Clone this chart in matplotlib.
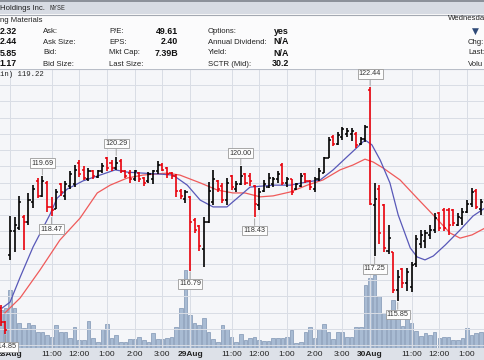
import numpy as np
import matplotlib
matplotlib.use('Agg')
import matplotlib.pyplot as plt
from matplotlib.patches import Rectangle

# 10 minute bars, index 0 = 28 Aug 9:30 (two bars of the previous session first)
first_bar = -2
opens = [115.65, 115.20,
         117.27, 118.00, 118.10, 118.45, 118.30, 118.90, 119.55, 119.10, 119.50, 118.75,
         118.70, 119.45, 119.10, 119.40, 119.45, 120.10, 119.90, 119.60, 119.85, 119.68,
         119.85, 120.25, 120.10, 119.95, 120.15, 119.85, 119.80, 119.60, 119.80, 119.65,
         119.55, 119.60, 119.85, 120.05, 119.95, 119.80, 119.70, 119.25, 119.00,
         119.05, 118.35, 118.15, 117.45, 118.30, 118.90, 119.55, 119.40, 118.95, 119.70,
         119.30, 119.45, 119.75, 119.70, 119.40, 118.80, 119.25, 119.35, 119.45, 119.60,
         120.05, 119.50, 119.60, 119.30, 119.40, 119.75, 119.55, 119.30, 119.60, 119.80,
         120.25, 120.90, 120.70, 120.90, 121.00, 121.00, 121.00, 120.70, 120.85,
         122.35, 118.80, 119.30, 118.80, 117.40, 117.35, 116.20, 116.85, 116.40, 116.30,
         117.00, 117.60, 117.70, 117.90, 118.05, 118.55, 118.65, 118.65, 118.65, 118.20,
         118.40, 118.60, 118.85, 119.25, 118.70]
highs = [115.73, 115.25,
         118.47, 118.45, 119.10, 118.50, 119.18, 119.42, 119.64, 119.69, 119.55, 119.05,
         119.30, 119.50, 119.55, 119.85, 120.05, 120.19, 120.00, 119.95, 119.90, 119.90,
         120.10, 120.30, 120.20, 120.29, 120.22, 119.90, 119.88, 119.90, 119.84, 119.68,
         119.84, 119.90, 120.15, 120.09, 119.99, 119.84, 119.75, 119.30, 119.27,
         119.10, 118.40, 118.20, 118.45, 119.53, 119.89, 119.58, 119.48, 119.63, 119.73,
         119.55, 120.00, 119.78, 119.78, 119.42, 119.32, 119.58, 119.78, 119.68, 119.85,
         120.09, 119.68, 119.62, 119.50, 119.78, 119.78, 119.58, 119.68, 119.95, 120.30,
         120.91, 120.96, 121.05, 121.22, 121.18, 121.18, 121.05, 120.90, 121.27,
         122.44, 119.48, 119.43, 118.85, 118.20, 117.37, 116.80, 116.87, 116.87, 117.06,
         117.89, 118.04, 118.05, 118.20, 118.55, 118.60, 118.71, 118.71, 118.70, 118.55,
         118.71, 118.96, 119.32, 119.30, 119.00]
lows = [115.09, 114.85,
        117.12, 117.35, 118.05, 117.42, 118.20, 118.71, 119.02, 119.05, 118.60, 118.47,
        118.70, 119.10, 118.96, 119.30, 119.37, 119.68, 119.58, 119.55, 119.60, 119.63,
        119.80, 119.85, 119.85, 119.88, 119.80, 119.65, 119.50, 119.55, 119.53, 119.38,
        119.50, 119.45, 119.75, 119.85, 119.63, 119.60, 119.06, 119.00, 118.86,
        116.79, 117.95, 117.38, 116.91, 118.25, 118.81, 119.20, 118.86, 118.81, 119.27,
        119.20, 119.43, 119.42, 119.40, 118.43, 118.66, 119.22, 119.32, 119.37, 119.50,
        119.42, 119.37, 119.12, 119.28, 119.37, 119.48, 119.28, 119.22, 119.55, 119.78,
        120.25, 120.62, 120.66, 120.81, 120.90, 120.78, 120.55, 120.65, 120.75,
        118.81, 117.25, 117.60, 117.35, 117.30, 116.10, 115.85, 116.25, 116.16, 116.14,
        116.91, 117.48, 117.50, 117.75, 117.95, 118.00, 118.00, 117.90, 118.15, 118.15,
        118.20, 118.55, 118.75, 118.70, 118.50]
closes = [115.20, 114.95,
          118.00, 118.20, 118.90, 118.30, 118.95, 119.30, 119.10, 119.55, 118.75, 118.65,
          119.20, 119.20, 119.45, 119.75, 119.90, 119.75, 119.65, 119.85, 119.70, 119.85,
          120.00, 119.95, 119.95, 120.10, 119.85, 119.70, 119.60, 119.85, 119.60, 119.50,
          119.75, 119.85, 120.05, 119.90, 119.75, 119.70, 119.25, 119.10, 119.20,
          118.30, 118.05, 117.55, 118.30, 119.25, 119.60, 119.30, 118.95, 119.50, 119.35,
          119.45, 119.70, 119.50, 119.55, 118.85, 119.20, 119.45, 119.65, 119.60, 119.75,
          119.50, 119.60, 119.20, 119.45, 119.70, 119.55, 119.35, 119.60, 119.85, 120.25,
          120.80, 120.70, 120.95, 121.15, 121.10, 121.10, 120.65, 120.85, 121.20,
          118.85, 119.00, 117.95, 117.50, 117.80, 116.20, 116.60, 116.40, 116.75, 116.95,
          117.75, 117.90, 117.95, 118.05, 118.40, 118.10, 118.10, 118.20, 118.25, 118.45,
          118.60, 118.85, 119.20, 118.75, 118.90]
# volume, thousands of shares
volumes = [95, 100,
           145, 100, 62, 50, 62, 58, 40, 40, 32, 28, 58, 40, 40, 25, 52, 20, 20, 68, 25,
           15, 48, 60, 25, 32, 15, 15, 22, 22, 28, 20, 15, 38, 22, 22, 25, 28, 52, 100, 195,
           82, 62, 58, 75, 40, 22, 15, 58, 48, 28, 15, 35, 20, 25, 28, 20, 18, 18, 25, 25,
           25, 28, 45, 12, 15, 40, 52, 25, 48, 60, 40, 22, 40, 40, 28, 28, 52, 52, 158,
           175, 182, 130, 88, 75, 120, 75, 55, 95, 62, 42, 30, 38, 32, 40, 25, 28, 28, 20,
           20, 25, 50, 32, 38, 40]

# moving averages (bar index, price)
fast_idx = [-1.7, 0, 2.2, 5, 8.7, 10.2, 12.4, 15.8, 19.5, 22.8, 25.4, 28.8, 32.5, 35.3,
            38.4, 41.2, 44, 47, 49.8, 52, 57, 60.7, 64.4, 67.2, 70, 73, 75.8, 76.9, 78.4,
            80.2, 82.3, 84.1, 86.7, 88.2, 89.9, 91.7, 94.3, 97.5, 100.3, 102.9]
fast_ma = [115.64, 115.82, 116.59, 117.52, 118.53, 119.02, 119.30, 119.55, 119.73, 119.89,
           119.82, 119.79, 119.76, 119.73, 119.42, 118.96, 118.75, 118.75, 119.09, 119.36,
           119.42, 119.42, 119.52, 119.58, 119.89, 120.29, 120.66, 120.81, 120.66, 120.19,
           119.49, 118.50, 117.49, 117.21, 117.12, 117.24, 117.58, 118.04, 118.47, 118.72]
slow_idx = [-1.1, 2.2, 6.5, 10.8, 15.2, 18.9, 21.7, 25.4, 28.8, 34, 36.8, 41.2, 44.9, 48.3,
            50.9, 54.2, 57, 60.7, 64.4, 67.8, 71.5, 74.3, 76.9, 78.7, 80.8, 84.5, 88.2,
            91.7, 95.3, 97.5, 100.1, 102.9]
slow_ma = [115.49, 115.95, 116.81, 117.73, 118.41, 119.18, 119.42, 119.64, 119.73, 119.79,
           119.73, 119.49, 119.27, 119.18, 119.18, 119.06, 119.09, 119.21, 119.42, 119.58,
           119.89, 120.04, 120.22, 120.13, 119.95, 119.58, 119.02, 118.50, 117.95, 117.79,
           117.89, 118.10]

tick_idx = [0, 9, 15, 21, 27, 33, 39, 48, 54, 60, 66, 72, 78, 87, 93, 99]
tick_labels = ['28Aug', '11:00', '12:00', '1:00', '2:00', '3:00',
               '29Aug', '11:00', '12:00', '1:00', '2:00', '3:00',
               '30Aug', '11:00', '12:00', '1:00']

# (bar index, price, side)
marks = [(-1, 114.85, 'low'), (7, 119.69, 'high'), (9, 118.47, 'low'),
         (23, 120.29, 'high'), (39, 116.79, 'low'), (50, 120.00, 'high'),
         (53, 118.43, 'low'), (78, 122.44, 'high'), (79, 117.25, 'low'),
         (84, 115.85, 'low')]

quote_vals = ['2.32', '2.44', '5.85', '1.17']
quote_names = ['Ask:', 'Ask Size:', 'Bid:', 'Bid Size:']
fund_names = ['P/E:', 'EPS:', 'Mkt Cap:', 'Last Size:']
fund_vals = ['49.61', '2.40', '7.39B', '']
opt_names = ['Options:', 'Annual Dividend:', 'Yield:', 'SCTR (Mid):']
opt_vals = ['yes', 'N/A', 'N/A', '30.2']
side_names = ['Chg:', 'Last:', 'Volu']

W, H = 485, 360
SANS = 'Liberation Sans'
MONO = 'Liberation Mono'


def fx(px):
    return px / W


def fy(py):
    return 1 - py / H


fig = plt.figure(figsize=(4.85, 3.6), dpi=100)
fig.patch.set_facecolor('#fbfbfc')

# header strip
fig.patches.append(Rectangle((0, fy(14)), 1, 14 / H, transform=fig.transFigure,
                             fc='#d7dbe3', ec='none', zorder=-5))
fig.add_artist(plt.Line2D([0, 1], [fy(0.5), fy(0.5)], color='#7d838c', lw=1.2))
fig.add_artist(plt.Line2D([0, 1], [fy(14.5), fy(14.5)], color='#a4a9b2', lw=0.8))
fig.text(fx(0), fy(8), 'Holdings Inc.', fontsize=5.6, family=SANS, color='#222', va='center')
fig.text(fx(50), fy(8), 'NYSE', fontsize=4.8, family=MONO, color='#333', va='center')
fig.text(fx(0), fy(20), 'ng Materials', fontsize=5.6, family=SANS, color='#222', va='center')
fig.text(fx(485), fy(18), 'Wednesda', fontsize=5.6, family=SANS, color='#222', va='center', ha='right')
fig.text(fx(475), fy(31), '\u25BC', fontsize=6.5, family='DejaVu Sans', color='#2f4a78',
         va='center', ha='center')

row_y = [31.5, 42, 53, 64]
for k, yy in enumerate(row_y):
    fig.text(fx(17), fy(yy), quote_vals[k], fontsize=6.4, family=SANS, weight='bold',
             ha='right', va='center', color='#111')
    fig.text(fx(43), fy(yy), quote_names[k], fontsize=5.6, family=SANS, va='center', color='#222')
    fig.text(fx(109), fy(yy), fund_names[k], fontsize=5.6, family=SANS, va='center', color='#222')
    fig.text(fx(178), fy(yy), fund_vals[k], fontsize=6.4, family=SANS, weight='bold',
             ha='right', va='center', color='#111')
    fig.text(fx(208), fy(yy), opt_names[k], fontsize=5.6, family=SANS, va='center', color='#222')
    fig.text(fx(289), fy(yy), opt_vals[k], fontsize=6.4, family=SANS, weight='bold',
             ha='right', va='center', color='#111')
for k, yy in enumerate(row_y[1:]):
    fig.text(fx(468), fy(yy), side_names[k], fontsize=5.6, family=SANS, va='center', color='#222')

# date / time band under the chart
fig.patches.append(Rectangle((0, 0), 1, 12 / H, transform=fig.transFigure,
                             fc='#dde1e8', ec='none', zorder=-5))

# price panel with volume behind it
p_top, p_bot = 69, 348
ymax = 122.44 + (87 - p_top) / 32.5
ymin = 122.44 - (p_bot - 87) / 32.5
rect = [0, fy(p_bot), 1, (p_bot - p_top) / H]

axv = fig.add_axes(rect)
axv.set_facecolor('#f5f6f9')
idx = np.arange(first_bar, first_bar + len(closes))
axv.bar(idx, volumes, width=0.78, color='#a8bbd3', edgecolor='#7f95b3', linewidth=0.5)
axv.set_ylim(0, (p_bot - p_top) * 2.5)
axv.set_xlim(-2.17, 102.9)
axv.set_xticks([])
axv.set_yticks([])
for s in axv.spines.values():
    s.set_visible(False)

ax = fig.add_axes(rect)
ax.patch.set_visible(False)
ax.set_ylim(ymin, ymax)
ax.set_xlim(-2.17, 102.9)
ax.set_yticks(np.arange(114.5, 123.0, 0.5))
ax.set_xticks(tick_idx)
ax.tick_params(length=0, labelleft=False, labelbottom=False)
ax.grid(True, color='#d9dde5', lw=0.7)
ax.set_axisbelow(True)
for s in ax.spines.values():
    s.set_visible(False)
ax.axhline(ymax, color='#b9bec8', lw=0.8)

# date / time labels in the band, 6 px below the panel
label_y = -6.0 / (p_bot - p_top)
for t, lab in zip(tick_idx, tick_labels):
    ax.text(t, label_y, lab, transform=ax.get_xaxis_transform(), ha='center', va='center',
            fontsize=6.0, family=SANS, color='#222',
            weight='bold' if 'Aug' in lab else 'normal', clip_on=False)

cols = ['#000000' if c >= o else '#e8000b' for o, c in zip(opens, closes)]
tw = 0.45
ax.vlines(idx, lows, highs, colors=cols, lw=1.2, zorder=3)
ax.hlines(opens, idx - tw, idx, colors=cols, lw=1.1, zorder=3)
ax.hlines(closes, idx, idx + tw, colors=cols, lw=1.1, zorder=3)

ax.plot(slow_idx, slow_ma, color='#ef5a5a', lw=0.9, zorder=2)
ax.plot(fast_idx, fast_ma, color='#5858b8', lw=0.9, zorder=2)

for i, price, side in marks:
    off = 7 if side == 'high' else -7
    ax.annotate(f'{price:.2f}', xy=(i, price), xytext=(0, off), textcoords='offset points',
                ha='center', va='bottom' if side == 'high' else 'top',
                fontsize=5.2, family=SANS, color='#333', zorder=5,
                bbox=dict(boxstyle='square,pad=0.18', fc='#fdfdfd', ec='#9a9a9a', lw=0.6),
                arrowprops=dict(arrowstyle='-', color='#9a9a9a', lw=0.6,
                                shrinkA=0, shrinkB=1))

fig.text(fx(0), fy(75), 'in) 119.22', fontsize=5.3, family=MONO, color='#222', va='center')

fig.savefig('out.png', dpi=100, facecolor=fig.get_facecolor())
